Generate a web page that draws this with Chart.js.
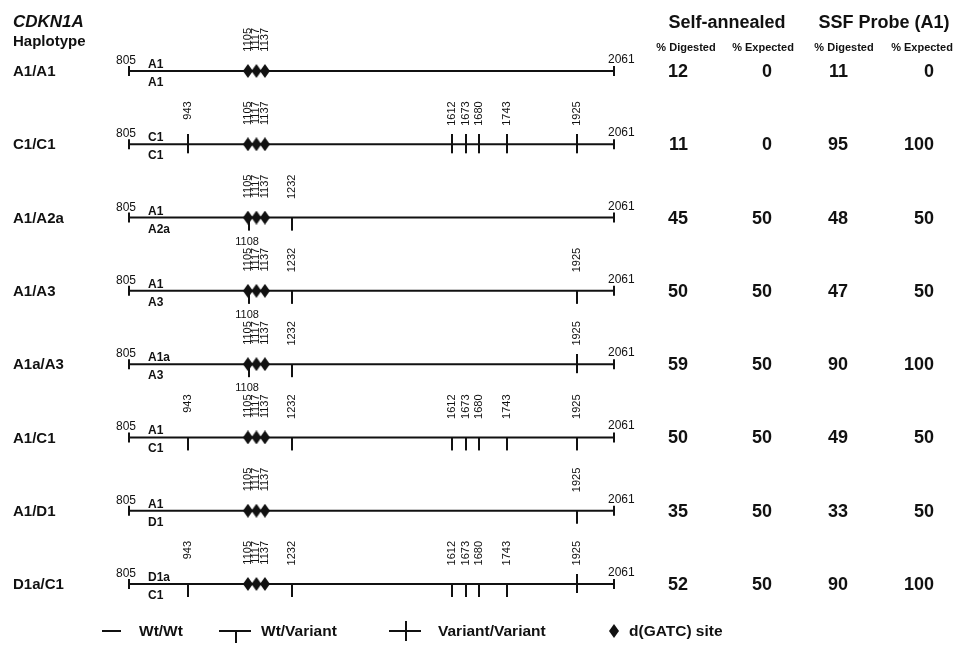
<!DOCTYPE html>
<html>
<head>
<meta charset="utf-8">
<script src="https://cdn.jsdelivr.net/npm/chart.js@4.4.1/dist/chart.umd.min.js"></script>
<style>
  html, body { margin: 0; padding: 0; background: #fff; }
  canvas { display: block; }
</style>
</head>
<body>
<canvas id="myChart" width="960" height="647"></canvas>
<script>
const haplotypes = ['A1/A1', 'C1/C1', 'A1/A2a', 'A1/A3', 'A1a/A3', 'A1/C1', 'A1/D1', 'D1a/C1'];
const upperAllele = ['A1', 'C1', 'A1', 'A1', 'A1a', 'A1', 'A1', 'D1a'];
const lowerAllele = ['A1', 'C1', 'A2a', 'A3', 'A3', 'C1', 'D1', 'C1'];
const fragStart = 805;
const fragEnd = 2061;
const gatcSites = [1105, 1117, 1137];

// the map is not drawn to scale: where each site sits on the schematic (bp units)
const siteBp  = [943, 1105, 1108, 1117, 1137, 1232, 1612, 1673, 1680, 1743, 1925];
const siteMap = [958, 1113, 1116, 1135, 1157, 1227, 1641, 1678, 1711, 1784, 1965];

const labelledSites = [
    [1105, 1117, 1137],
    [943, 1105, 1117, 1137, 1612, 1673, 1680, 1743, 1925],
    [1105, 1117, 1137, 1232],
    [1105, 1117, 1137, 1232, 1925],
    [1105, 1117, 1137, 1232, 1925],
    [943, 1105, 1117, 1137, 1232, 1612, 1673, 1680, 1743, 1925],
    [1105, 1117, 1137, 1925],
    [943, 1105, 1117, 1137, 1232, 1612, 1673, 1680, 1743, 1925],
];
const belowLabels = [[], [], [1108], [1108], [1108], [], [], []];
// variant on both alleles (tick through the line) / on one allele (tick below)
const bothVariant = [[], [943, 1612, 1673, 1680, 1743, 1925], [], [], [1925], [], [], [1925]];
const oneVariant = [
    [], [], [1108, 1232], [1108, 1232, 1925], [1108, 1232],
    [943, 1232, 1612, 1673, 1680, 1743, 1925], [1925],
    [943, 1232, 1612, 1673, 1680, 1743],
];

const selfDigested = [12, 11, 45, 50, 59, 50, 35, 52];
const selfExpected = [0, 0, 50, 50, 50, 50, 50, 50];
const ssfDigested = [11, 95, 48, 47, 90, 49, 33, 90];
const ssfExpected = [0, 100, 50, 50, 100, 50, 50, 100];

const FONT = '"Liberation Sans", Arial, Helvetica, sans-serif';
const INK = '#111';

function mapX(bp) {
    const i = siteBp.indexOf(bp);
    return i < 0 ? bp : siteMap[i];
}

function makeCanvas(w, h, draw) {
    const c = document.createElement('canvas');
    c.width = w;
    c.height = h;
    const g = c.getContext('2d');
    g.fillStyle = INK;
    draw(g);
    return c;
}
const diamond = makeCanvas(10, 14, g => {
    g.beginPath();
    g.moveTo(5, 0); g.lineTo(10, 7); g.lineTo(5, 14); g.lineTo(0, 7);
    g.closePath();
    g.fill();
});
const crossTick = makeCanvas(2, 20, g => g.fillRect(0, 0, 2, 19));
const downTick = makeCanvas(2, 28, g => g.fillRect(0, 14, 2, 13));

function points(lists) {
    const out = [];
    lists.forEach((list, row) => list.forEach(bp => out.push({ x: mapX(bp), y: row })));
    return out;
}

const datasets = [];
haplotypes.forEach((h, row) => {
    datasets.push({
        type: 'line',
        data: [{ x: fragStart, y: row }, { x: fragEnd, y: row }],
        borderColor: INK,
        borderWidth: 2,
        pointRadius: 0,
        clip: false,
        order: 3,
    });
});
datasets.push({
    type: 'scatter',
    data: points(haplotypes.map(() => [fragStart, fragEnd])),
    pointStyle: 'line',
    rotation: 90,
    radius: 5,
    borderColor: INK,
    borderWidth: 2,
    clip: false,
    order: 2,
});
datasets.push({
    type: 'scatter',
    data: points(bothVariant),
    pointStyle: crossTick,
    clip: false,
    order: 2,
});
datasets.push({
    type: 'scatter',
    data: points(oneVariant),
    pointStyle: downTick,
    clip: false,
    order: 2,
});
datasets.push({
    type: 'scatter',
    data: points(haplotypes.map(() => gatcSites)),
    pointStyle: diamond,
    clip: false,
    order: 0,
});

const textPlugin = {
    id: 'mapText',
    afterDraw(chart) {
        const ctx = chart.ctx;
        const xs = chart.scales.x;
        const ys = chart.scales.y;
        ctx.save();
        ctx.fillStyle = INK;
        ctx.strokeStyle = INK;

        // headers
        ctx.textBaseline = 'alphabetic';
        ctx.textAlign = 'left';
        ctx.font = 'bold italic 17px ' + FONT;
        ctx.fillText('CDKN1A', 13, 27);
        ctx.font = 'bold 15px ' + FONT;
        ctx.fillText('Haplotype', 13, 46);
        ctx.textAlign = 'center';
        ctx.font = 'bold 18px ' + FONT;
        ctx.fillText('Self-annealed', 727, 28);
        ctx.fillText('SSF Probe (A1)', 884, 28);
        ctx.font = 'bold 11px ' + FONT;
        [['% Digested', 686], ['% Expected', 763], ['% Digested', 844], ['% Expected', 922]]
            .forEach(([t, x]) => ctx.fillText(t, x, 51));

        const cols = [[selfDigested, 688], [selfExpected, 772], [ssfDigested, 848], [ssfExpected, 934]];

        haplotypes.forEach((h, row) => {
            const y = ys.getPixelForValue(row);
            const x0 = xs.getPixelForValue(fragStart);
            const x1 = xs.getPixelForValue(fragEnd);

            ctx.textAlign = 'left';
            ctx.textBaseline = 'middle';
            ctx.font = 'bold 15px ' + FONT;
            ctx.fillText(h, 13, y + 1);

            ctx.textBaseline = 'alphabetic';
            ctx.font = '12px ' + FONT;
            ctx.textAlign = 'center';
            ctx.fillText(String(fragStart), x0 - 3, y - 7);
            ctx.textAlign = 'left';
            ctx.fillText(String(fragEnd), x1 - 6, y - 8);

            ctx.font = 'bold 12px ' + FONT;
            ctx.fillText(upperAllele[row], x0 + 19, y - 3);
            ctx.fillText(lowerAllele[row], x0 + 19, y + 15);

            ctx.font = '11px ' + FONT;
            labelledSites[row].forEach(bp => {
                const sx = xs.getPixelForValue(mapX(bp));
                ctx.save();
                ctx.translate(sx, y - 43);
                ctx.rotate(-Math.PI / 2);
                ctx.textAlign = 'right';
                ctx.textBaseline = 'middle';
                ctx.fillText(String(bp), 0, 0);
                ctx.restore();
            });
            ctx.textAlign = 'center';
            belowLabels[row].forEach(bp => {
                ctx.fillText(String(bp), xs.getPixelForValue(mapX(bp)) - 2, y + 27);
            });

            ctx.textAlign = 'right';
            ctx.textBaseline = 'middle';
            ctx.font = 'bold 18px ' + FONT;
            cols.forEach(([vals, x]) => ctx.fillText(String(vals[row]), x, y + 1));
        });

        // legend
        const ly = 631;
        ctx.lineWidth = 2;
        ctx.beginPath();
        ctx.moveTo(102, ly); ctx.lineTo(121, ly);
        ctx.moveTo(219, ly); ctx.lineTo(251, ly);
        ctx.moveTo(236, ly); ctx.lineTo(236, ly + 12);
        ctx.moveTo(389, ly); ctx.lineTo(421, ly);
        ctx.moveTo(406, ly - 10); ctx.lineTo(406, ly + 10);
        ctx.stroke();
        ctx.drawImage(diamond, 609, ly - 7);
        ctx.textAlign = 'left';
        ctx.textBaseline = 'middle';
        ctx.font = 'bold 15.5px ' + FONT;
        ctx.fillText('Wt/Wt', 139, ly + 1);
        ctx.fillText('Wt/Variant', 261, ly + 1);
        ctx.fillText('Variant/Variant', 438, ly + 1);
        ctx.fillText('d(GATC) site', 629, ly + 1);
        ctx.restore();
    }
};

const config = {
    type: 'scatter',
    data: { datasets: datasets },
    options: {
        responsive: false,
        animation: false,
        events: [],
        layout: {
            padding: { left: 129, right: 346, top: 71, bottom: 63 },
        },
        scales: {
            x: { type: 'linear', min: fragStart, max: fragEnd, display: false },
            y: { type: 'linear', min: 0, max: 7, reverse: true, display: false },
        },
        plugins: {
            legend: { display: false },
            tooltip: { enabled: false },
        },
    },
    plugins: [textPlugin],
};

const ctx = document.getElementById('myChart').getContext('2d');
new Chart(ctx, config);
</script>
</body>
</html>
